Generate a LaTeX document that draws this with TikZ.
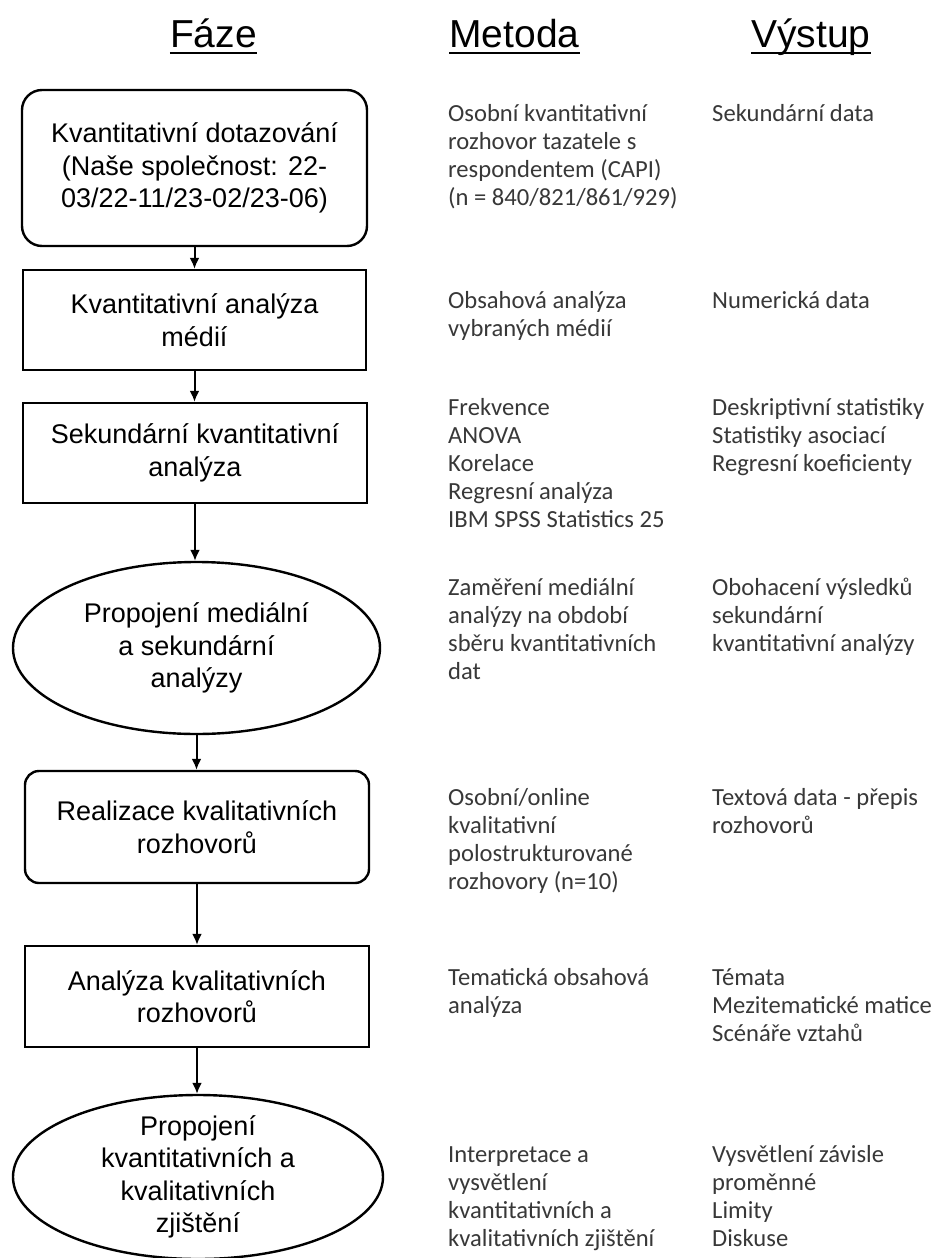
\documentclass[tikz,border=0pt]{standalone}
\usepackage{fontspec}
\setmainfont{Liberation Sans}
\newfontfamily\colfont{Carlito}
\usetikzlibrary{shapes.geometric,arrows.meta}
\definecolor{txtgray}{HTML}{383838}
\newcommand\colines[1]{\begin{tabular}[t]{@{}l@{}}#1\end{tabular}}
\begin{document}
\begin{tikzpicture}[x=1pt,y=-1pt,
  hdr/.style={font=\fontsize{39}{47}\selectfont, inner sep=0pt, anchor=base},
  uline/.style={line width=2.6pt},
  flow/.style={draw=black, line width=2.4pt, font=\fontsize{27}{32.5}\selectfont, align=center, text=black, inner sep=0pt},
  rbox/.style={flow, rectangle},
  rrbox/.style={flow, rectangle, rounded corners=#1},
  ell/.style={flow, ellipse},
  ftext/.style={font=\fontsize{27}{32.5}\selectfont, align=center, text=black, inner sep=0pt},
  coltext/.style={font=\colfont\fontsize{24.6}{28}\selectfont, text=txtgray, inner sep=0pt, anchor=base west},
  conn/.style={line width=2pt, -{Latex[length=11pt,width=10pt]}}
]
\useasboundingbox (0,0) rectangle (936,1258);
\fill[white] (0,0) rectangle (936,1258);

% headers
\node[hdr] (h1) at (213.5,47) {Fáze};
\node[hdr] (h2) at (514.5,47) {Metoda};
\node[hdr] (h3) at (811,47) {Výstup};
\foreach \h in {h1,h2,h3}
  \draw[uline] ([yshift=-6pt]\h.base west) -- ([yshift=-6pt]\h.base east);

% flow shapes
\node[rrbox=20pt, minimum width=345, minimum height=156] (b1) at (194.5,168)
  {Kvantitativní dotazování\\(Naše společnost: 22-\\03/22-11/23-02/23-06)};
\node[rbox, minimum width=343, minimum height=100] (b2) at (194.5,320)
  {Kvantitativní analýza\\médií};
\node[rbox, minimum width=344, minimum height=100] (b3) at (195,453)
  {Sekundární kvantitativní\\analýza};
\node[ell, minimum width=367, minimum height=172] (e1) at (196.5,648) {};
\node[ftext] (e1t) at (e1.center) {Propojení mediální\\a sekundární\\analýzy};
\node[rrbox=14pt, minimum width=344, minimum height=112] (b4) at (197,827)
  {Realizace kvalitativních\\rozhovorů};
\node[rbox, minimum width=344, minimum height=101] (b5) at (197,996.5)
  {Analýza kvalitativních\\rozhovorů};
\node[ell, minimum width=370, minimum height=164] (e2) at (198,1177) {};
\node[ftext] (e2t) at (e2.center) {Propojení\\kvantitativních a\\kvalitativních\\zjištění};

% connectors
\draw[conn] (b1.south) -- (b1.south |- b2.north);
\draw[conn] (b2.south) -- (b2.south |- b3.north);
\draw[conn] (b3.south) -- (b3.south |- e1.north);
\draw[conn] (e1.south) -- (e1.south |- b4.north);
\draw[conn] (b4.south) -- (b4.south |- b5.north);
\draw[conn] (b5.south) -- (b5.south |- e2.north);

% method column
\node[coltext] (m1) at (448,121) {\colines{Osobní kvantitativní\\ rozhovor tazatele s\\ respondentem (CAPI)\\ (n = 840/821/861/929)}};
\node[coltext] (m2) at (448,308) {\colines{Obsahová analýza\\ vybraných médií}};
\node[coltext] (m3) at (448,415) {\colines{Frekvence\\ ANOVA\\ Korelace\\ Regresní analýza\\ IBM SPSS Statistics 25}};
\node[coltext] (m4) at (448,595) {\colines{Zaměření mediální\\ analýzy na období\\ sběru kvantitativních\\ dat}};
\node[coltext] (m5) at (448,805) {\colines{Osobní/online\\ kvalitativní\\ polostrukturované\\ rozhovory (n=10)}};
\node[coltext] (m6) at (448,985) {\colines{Tematická obsahová\\ analýza}};
\node[coltext] (m7) at (448,1162) {\colines{Interpretace a\\ vysvětlení\\ kvantitativních a\\ kvalitativních zjištění}};

% output column
\node[coltext] (o1) at (712,121) {\colines{Sekundární data}};
\node[coltext] (o2) at (712,308) {\colines{Numerická data}};
\node[coltext] (o3) at (712,415) {\colines{Deskriptivní statistiky\\ Statistiky asociací\\ Regresní koeficienty}};
\node[coltext] (o4) at (712,595) {\colines{Obohacení výsledků\\ sekundární\\ kvantitativní analýzy}};
\node[coltext] (o5) at (712,805) {\colines{Textová data - přepis\\ rozhovorů}};
\node[coltext] (o6) at (712,985) {\colines{Témata\\ Mezitematické matice\\ Scénáře vztahů}};
\node[coltext] (o7) at (712,1162) {\colines{Vysvětlení závisle\\ proměnné\\ Limity\\ Diskuse}};
\end{tikzpicture}
\end{document}
